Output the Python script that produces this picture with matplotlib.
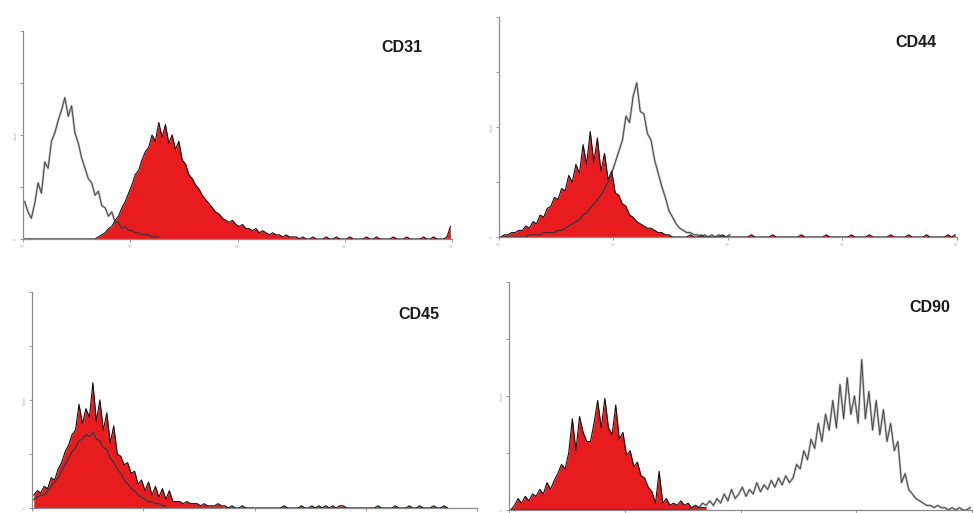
import numpy as np
import matplotlib
matplotlib.use("Agg")
import matplotlib.pyplot as plt

plt.rcParams['font.family'] = ['Liberation Sans', 'DejaVu Sans']

# panel names
markers = ["CD31", "CD44", "CD45", "CD90"]

# histogram counts per channel (128 log channels, 10^0 .. 10^4), % of y-axis max
cd31_stained = [0]*22 + [
    1, 2, 3, 5, 6, 9, 11, 15, 18, 22, 26, 31, 33, 38, 42, 44, 50, 47, 56,
    49, 55, 46, 50, 43, 47, 38, 36, 31, 29, 26, 24, 21, 19, 17, 15, 13, 12, 10, 9,
    8, 9, 7, 6, 7, 5, 5, 4, 5, 3, 4, 3, 2, 3, 2, 2, 1, 2, 1, 1, 1,
    0, 1, 0, 0, 1, 0, 0, 0, 1, 0, 0, 1, 0, 0, 0, 1, 0, 0, 0, 0, 1, 0, 0, 1,
    0, 0, 0, 0, 1, 0, 0, 0, 1, 0, 0, 0, 0, 1, 0, 0, 1, 0, 0, 0, 1, 6]
cd31_control = [
    18, 13, 10, 17, 27, 22, 37, 34, 47, 51, 57, 62, 68, 59, 64, 51, 46, 39, 34, 29,
    27, 21, 23, 16, 15, 11, 13, 8, 8, 5, 6, 4, 4, 3, 3, 2, 2, 2, 1, 1, 1]

cd44_stained = [
    0, 1, 1, 2, 2, 3, 3, 5, 4, 7, 6, 10, 9, 13, 14, 18, 17, 22, 21, 28,
    25, 33, 29, 42, 33, 48, 34, 45, 30, 38, 26, 30, 20, 19, 15, 14, 10, 9, 7, 6,
    5, 4, 4, 3, 2, 2, 1, 1, 0, 0, 0, 0, 0, 1, 0, 0, 1, 0, 0, 0,
    0, 0, 1, 0, 0, 0, 0, 0, 0, 0, 1, 0, 0, 0, 0, 0, 1, 0, 0, 0,
    0, 0, 0, 0, 1, 0, 0, 0, 0, 0, 0, 1, 0, 0, 0, 0, 0, 0, 1, 0,
    0, 0, 0, 1, 0, 0, 0, 0, 0, 1, 0, 0, 0, 0, 1, 0, 0, 0, 0, 1,
    0, 0, 0, 0, 0, 1, 0, 1]
cd44_control = [
    0, 0, 0, 0, 0, 0, 0, 0, 1, 1, 1, 1, 2, 2, 2, 2, 3, 3, 4, 5,
    6, 7, 8, 10, 11, 13, 15, 17, 19, 22, 25, 29, 34, 39, 44, 55, 52, 64, 70, 57,
    56, 47, 44, 35, 29, 23, 18, 12, 9, 6, 4, 3, 2, 2, 1, 1, 0, 1, 0, 1,
    0, 1, 0, 0, 1]

cd45_stained = [
    6, 8, 7, 10, 9, 14, 13, 18, 21, 26, 29, 34, 36, 48, 39, 46, 42, 58, 40, 50,
    36, 44, 30, 38, 25, 24, 20, 21, 16, 17, 11, 13, 8, 12, 6, 10, 5, 9, 4, 8,
    3, 3, 3, 2, 3, 2, 2, 2, 1, 2, 1, 1, 1, 2, 1, 1, 0, 1, 0, 0,
    1, 0, 0, 0, 0, 0, 0, 0, 0, 0, 0, 0, 1, 0, 0, 0, 0, 1, 0, 0,
    1, 0, 1, 0, 1, 0, 1, 0, 1, 1, 0, 0, 0, 0, 0, 0, 0, 0, 0, 1,
    0, 0, 0, 0, 1, 0, 0, 0, 1, 0, 0, 1, 0, 0, 0, 1, 0, 0, 1, 0]
cd45_control = [
    4, 5, 6, 6, 8, 10, 12, 14, 17, 20, 23, 26, 28, 31, 32, 34, 33, 35, 32, 31,
    28, 27, 23, 21, 18, 16, 13, 11, 9, 8, 6, 5, 4, 3, 3, 2, 2, 1, 1]

cd90_stained = [
    0, 2, 5, 3, 6, 4, 7, 6, 9, 7, 12, 9, 13, 16, 20, 18, 25, 40, 26, 41,
    34, 30, 30, 38, 48, 36, 49, 36, 33, 46, 31, 34, 24, 26, 19, 21, 15, 14, 10, 8,
    3, 17, 3, 5, 2, 3, 2, 4, 2, 3, 1, 2, 1, 1, 1]
cd90_control = [0]*50 + [
    1, 2, 1, 3, 2, 4, 2, 5, 3, 7, 4, 9, 5, 7, 10, 6, 9, 7, 12, 8,
    11, 9, 13, 10, 14, 11, 15, 12, 14, 20, 18, 26, 22, 31, 27, 38, 30, 42, 35, 48,
    36, 55, 40, 58, 42, 50, 38, 66, 40, 52, 35, 48, 33, 44, 30, 38, 26, 30, 12, 16,
    9, 7, 5, 4, 3, 2, 2, 1, 2, 1, 1, 0, 1, 0, 1, 0, 0, 1]

stained = [cd31_stained, cd44_stained, cd45_stained, cd90_stained]
control = [cd31_control, cd44_control, cd45_control, cd90_control]

RED = '#e81c1f'
AXIS_GRAY = '#8c8c8c'

fig = plt.figure(figsize=(9.74, 5.13), dpi=100)

# axes boxes (figure fractions) and label spots (axes fractions)
boxes = [
    [0.0236, 0.5341, 0.4405, 0.4055],
    [0.5123, 0.5380, 0.4702, 0.4288],
    [0.0329, 0.0098, 0.4569, 0.4211],
    [0.5226, 0.0059, 0.4754, 0.4444],
]
label_pos = [(0.883, 0.923), (0.910, 0.882), (0.870, 0.894), (0.909, 0.890)]

for i in range(4):
    ax = fig.add_axes(boxes[i])
    s = np.array(stained[i], dtype=float)
    c = np.array(control[i], dtype=float)
    xs = np.arange(len(s)) + 0.5
    xc = np.arange(len(c)) + 0.5

    ax.fill_between(xs, s, color=RED, linewidth=0, zorder=2)
    ax.plot(xs, s, color='#111111', lw=0.8, zorder=3)
    # control histogram: grey fuzzy outline
    ax.plot(xc, c, color='#555555', lw=1.6, alpha=0.45, zorder=4)
    ax.plot(xc, c, color='#222222', lw=0.6, alpha=0.8, zorder=4)

    ax.set_xlim(0, 128)
    ax.set_ylim(0, 100)
    ax.set_xticks([0, 32, 64, 96, 128])
    ax.set_yticks([0, 25, 50, 75, 100])
    ax.set_xticklabels(['10$^0$', '10$^1$', '10$^2$', '10$^3$', '10$^4$'])
    ax.set_yticklabels(['0', '', 'Count', '', ''], rotation=90, va='center')
    ax.tick_params(length=2.5, width=0.6, color=AXIS_GRAY, labelsize=2.5,
                   labelcolor='#b0b0b0', pad=1)
    if i >= 2:
        ax.tick_params(labelbottom=False)
    for side in ['top', 'right']:
        ax.spines[side].set_visible(False)
    for side in ['left', 'bottom']:
        ax.spines[side].set_color(AXIS_GRAY)
        ax.spines[side].set_linewidth(0.9)
    ax.patch.set_alpha(0)

    ax.text(label_pos[i][0], label_pos[i][1], markers[i], transform=ax.transAxes,
            ha='center', va='center', fontsize=11.5, fontweight='bold', color='#1a1a1a')

plt.savefig("out.png", dpi=100)
